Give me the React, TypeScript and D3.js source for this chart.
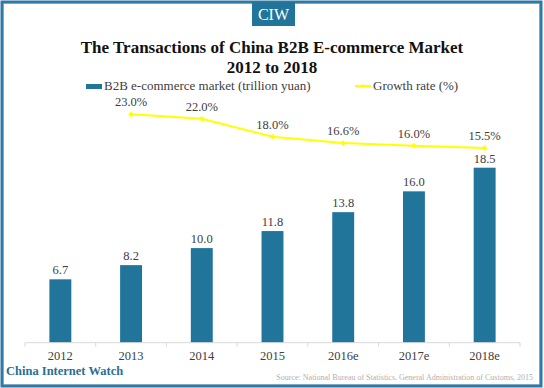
import React from "react";
import { scaleBand, scaleLinear, line } from "d3";

const years = ["2012", "2013", "2014", "2015", "2016e", "2017e", "2018e"];
const market = [6.7, 8.2, 10.0, 11.8, 13.8, 16.0, 18.5];
const growthYears = ["2013", "2014", "2015", "2016e", "2017e", "2018e"];
const growth = [23.0, 22.0, 18.0, 16.6, 16.0, 15.5];

const W = 544;
const H = 388;
const BLUE = "#21759b";
const FRAME = "#2e79a6";
const FONT = "'Liberation Serif', 'DejaVu Serif', serif";

function App() {
  const x = scaleBand().domain(years).range([25, 520]).paddingInner(0.69).paddingOuter(0.345);
  const y = scaleLinear().domain([0, 20]).range([342.7, 153.5]);
  const y2 = scaleLinear().domain([0, 25]).range([217.4, 105.4]);
  const cx = (d: string) => (x(d) as number) + x.bandwidth() / 2;

  const growthLine = line<number>()
    .x((d, i) => cx(growthYears[i]))
    .y((d) => y2(d));

  // tick marks between categories
  const boundaries = years.map((d, i) => 25 + i * ((520 - 25) / years.length)).concat([520]);

  return (
    <svg
      width={W}
      height={H}
      style={{ position: "fixed", left: 0, top: 0, background: "#fff" }}
      fontFamily={FONT}
    >
      {/* frame */}
      <rect x={3.5} y={3.5} width={536} height={381} fill="none" stroke="#d8d8d8" strokeWidth={1} />
      <rect x={2} y={2} width={539} height={384} fill="none" stroke={FRAME} strokeWidth={3} />

      {/* CIW badge */}
      <rect x={252} y={2} width={43} height={24} fill={BLUE} />
      <text x={273.5} y={20} textAnchor="middle" fill="#fff" fontSize={16}>CIW</text>

      {/* title */}
      <text x={272} y={53} textAnchor="middle" fontSize={17} fontWeight="bold" fill="#111">
        The Transactions of China B2B E-commerce Market
      </text>
      <text x={272} y={73} textAnchor="middle" fontSize={17} fontWeight="bold" fill="#111">
        2012 to 2018
      </text>

      {/* legend */}
      <rect x={86} y={84} width={16} height={5} fill={BLUE} />
      <text x={104} y={89.5} fontSize={13} fill="#404040">B2B e-commerce market (trillion yuan)</text>
      <line x1={355} x2={371} y1={86} y2={86} stroke="#ffff00" strokeWidth={2} />
      <rect x={361} y={84.5} width={3} height={3} fill="#ffff00" transform="rotate(45 362.5 86)" />
      <text x={373} y={89.5} fontSize={13} fill="#404040">Growth rate (%)</text>

      {/* bars */}
      {years.map((d, i) => (
        <g key={d}>
          <rect x={x(d)} y={y(market[i])} width={x.bandwidth()} height={y(0) - y(market[i])} fill={BLUE} />
          <text x={cx(d)} y={y(market[i]) - 5} textAnchor="middle" fontSize={12.5} fill="#404040">
            {market[i].toFixed(1)}
          </text>
        </g>
      ))}

      {/* x axis */}
      <line x1={25} x2={520} y1={y(0)} y2={y(0)} stroke="#d9d9d9" />
      {boundaries.map((b, i) => (
        <line key={i} x1={b} x2={b} y1={y(0)} y2={y(0) + 4} stroke="#d9d9d9" />
      ))}
      {years.map((d) => (
        <text key={d} x={cx(d)} y={360} textAnchor="middle" fontSize={12.5} fill="#404040">
          {d}
        </text>
      ))}

      {/* growth line */}
      <path d={growthLine(growth) || ""} fill="none" stroke="#ffff00" strokeWidth={2} />
      {growth.map((g, i) => (
        <g key={growthYears[i]}>
          <rect
            x={cx(growthYears[i]) - 2}
            y={y2(g) - 2}
            width={4}
            height={4}
            fill="#ffff00"
            transform={`rotate(45 ${cx(growthYears[i])} ${y2(g)})`}
          />
          <text x={cx(growthYears[i])} y={y2(g) - 8} textAnchor="middle" fontSize={12.5} fill="#404040">
            {g.toFixed(1)}%
          </text>
        </g>
      ))}

      {/* footer */}
      <text x={6} y={375} fontSize={12.5} fontWeight="bold" fill="#2a6f94">China Internet Watch</text>
      <text x={533} y={380} textAnchor="end" fontSize={8} fill="#b0b0b0">
        Source: National Bureau of Statistics, General Administration of Customs, 2015
      </text>
    </svg>
  );
}

export default App;
